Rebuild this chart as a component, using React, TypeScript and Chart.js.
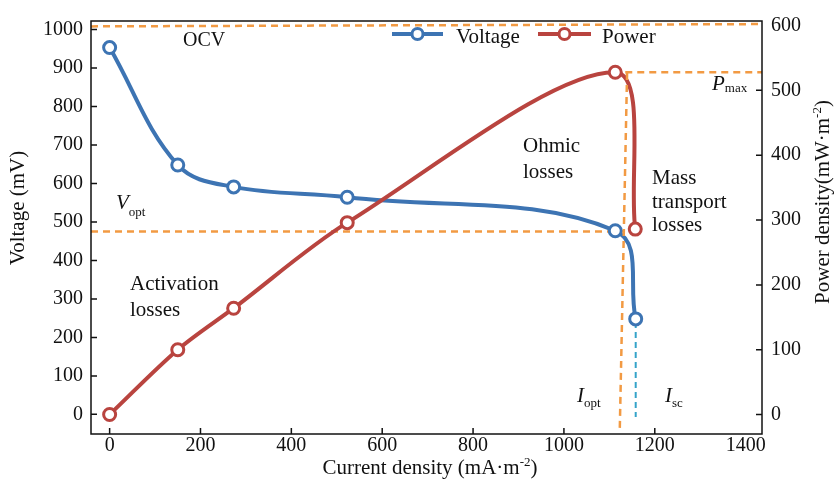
import React, { useEffect, useRef } from "react";
import { Chart, registerables } from "chart.js";

Chart.register(...registerables);

const FONT = "'Liberation Serif', 'Times New Roman', Times, serif";

// ---- data ----
const currentV = [0, 150, 273, 523, 1113, 1158];
const voltage = [953, 648, 591, 564, 477, 248];
const currentP = [0, 150, 273, 523, 1113, 1157];
const power = [0, 100, 164, 296, 528, 286];

const xTicks = [0, 200, 400, 600, 800, 1000, 1200, 1400];
const yTicks = [0, 100, 200, 300, 400, 500, 600, 700, 800, 900, 1000];
const y2Ticks = [0, 100, 200, 300, 400, 500, 600];

// reference lines
const ocvLine = [{ x: -41, y: 1008 }, { x: 1436, y: 1014 }];
const pmaxLine = [{ x: 1135, y: 528 }, { x: 1436, y: 528 }];
const ioptLine = [{ x: 1139, y: 887 }, { x: 1123, y: -36 }];
const voptLine = [{ x: -41, y: 475 }, { x: 1134, y: 475 }];
const iscLine = [{ x: 1158, y: 240 }, { x: 1158, y: -7 }];

const BLUE = "#3d74b3";
const RED = "#b9443f";
const ORANGE = "#f29a43";
const TEAL = "#35a3c9";
const INK = "#111111";

type Seg = { t: string; size: number; dy?: number; italic?: boolean };

function drawRich(
  ctx: CanvasRenderingContext2D,
  segs: Seg[],
  x: number,
  y: number,
  align: "left" | "center",
  rot = 0
) {
  ctx.save();
  ctx.translate(x, y);
  if (rot) ctx.rotate(rot);
  const fontOf = (s: Seg) => `${s.italic ? "italic " : ""}${s.size}px ${FONT}`;
  const widths = segs.map((s) => {
    ctx.font = fontOf(s);
    return ctx.measureText(s.t).width;
  });
  const total = widths.reduce((a, b) => a + b, 0);
  let cx = align === "center" ? -total / 2 : 0;
  ctx.textBaseline = "alphabetic";
  ctx.textAlign = "left";
  ctx.fillStyle = INK;
  segs.forEach((s, i) => {
    ctx.font = fontOf(s);
    ctx.fillText(s.t, cx, s.dy ?? 0);
    cx += widths[i];
  });
  ctx.restore();
}

const framePlugin = {
  id: "frameTicks",
  afterDraw(chart: any) {
    const { ctx, chartArea: a, scales } = chart;
    ctx.save();
    ctx.strokeStyle = INK;
    ctx.lineWidth = 1.5;
    ctx.strokeRect(a.left, a.top, a.right - a.left, a.bottom - a.top);
    const L = 6;
    ctx.beginPath();
    xTicks.forEach((v) => {
      if (v === 1400) return;
      const px = scales.x.getPixelForValue(v);
      ctx.moveTo(px, a.bottom);
      ctx.lineTo(px, a.bottom - L);
    });
    yTicks.forEach((v) => {
      const py = scales.y.getPixelForValue(v);
      ctx.moveTo(a.left, py);
      ctx.lineTo(a.left + L, py);
    });
    y2Ticks.forEach((v) => {
      if (v === 600) return;
      const py = scales.y2.getPixelForValue(v);
      ctx.moveTo(a.right, py);
      ctx.lineTo(a.right - L, py);
    });
    ctx.stroke();

    // legend
    const items = [
      { label: "Voltage", color: BLUE, x0: 392, x1: 443, tx: 456 },
      { label: "Power", color: RED, x0: 538, x1: 591, tx: 602 },
    ];
    items.forEach((it) => {
      const ly = 34;
      ctx.strokeStyle = it.color;
      ctx.lineWidth = 4;
      ctx.beginPath();
      ctx.moveTo(it.x0, ly);
      ctx.lineTo(it.x1, ly);
      ctx.stroke();
      ctx.beginPath();
      ctx.arc((it.x0 + it.x1) / 2, ly, 5.5, 0, Math.PI * 2);
      ctx.fillStyle = "#ffffff";
      ctx.fill();
      ctx.lineWidth = 3;
      ctx.stroke();
      drawRich(ctx, [{ t: it.label, size: 21 }], it.tx, 42.5, "left");
    });

    // annotations
    drawRich(ctx, [{ t: "OCV", size: 20 }], 183, 46, "left");
    drawRich(ctx, [{ t: "Ohmic", size: 21 }], 523, 152, "left");
    drawRich(ctx, [{ t: "losses", size: 21 }], 523, 178, "left");
    drawRich(ctx, [{ t: "Mass", size: 21 }], 652, 184, "left");
    drawRich(ctx, [{ t: "transport", size: 21 }], 652, 208, "left");
    drawRich(ctx, [{ t: "losses", size: 21 }], 652, 231, "left");
    drawRich(ctx, [{ t: "Activation", size: 21 }], 130, 290, "left");
    drawRich(ctx, [{ t: "losses", size: 21 }], 130, 315.5, "left");
    drawRich(ctx, [{ t: "V", size: 21, italic: true }, { t: "opt", size: 13, dy: 7 }], 116, 209, "left");
    drawRich(ctx, [{ t: "P", size: 21, italic: true }, { t: "max", size: 13, dy: 2 }], 712, 90, "left");
    drawRich(ctx, [{ t: "I", size: 21, italic: true }, { t: "opt", size: 13, dy: 5 }], 577, 401.5, "left");
    drawRich(ctx, [{ t: "I", size: 21, italic: true }, { t: "sc", size: 13, dy: 5 }], 665, 401.5, "left");

    // axis titles
    drawRich(ctx, [{ t: "Voltage (mV)", size: 21 }], 23.5, 208, "center", -Math.PI / 2);
    drawRich(
      ctx,
      [
        { t: "Power density(mW·m", size: 21 },
        { t: "-2", size: 13, dy: -8 },
        { t: ")", size: 21 },
      ],
      829,
      202,
      "center",
      -Math.PI / 2
    );
    drawRich(
      ctx,
      [
        { t: "Current density (mA·m", size: 21 },
        { t: "-2", size: 13, dy: -8 },
        { t: ")", size: 21 },
      ],
      430,
      474,
      "center"
    );
    ctx.restore();
  },
};

export default function App() {
  const ref = useRef<HTMLCanvasElement | null>(null);

  useEffect(() => {
    document.body.style.margin = "0";
    const canvas = ref.current;
    if (!canvas) return;

    const dashed = (data: any[], color: string, yAxisID: string, dash: number[], width: number, order: number) => ({
      data,
      yAxisID,
      borderColor: color,
      borderWidth: width,
      borderDash: dash,
      pointRadius: 0,
      fill: false,
      tension: 0,
      order,
    });

    const tickFont = { family: FONT, size: 20 };
    const plain = (v: any) => String(v);

    const chart = new Chart(canvas, {
      type: "line",
      data: {
        datasets: [
          {
            label: "Power",
            data: currentP.map((x, i) => ({ x, y: power[i] })),
            yAxisID: "y2",
            borderColor: RED,
            borderWidth: 4,
            pointRadius: 6,
            pointBorderWidth: 3,
            pointBackgroundColor: "#ffffff",
            pointBorderColor: RED,
            tension: 0.32,
            fill: false,
            order: 1,
          },
          {
            label: "Voltage",
            data: currentV.map((x, i) => ({ x, y: voltage[i] })),
            yAxisID: "y",
            borderColor: BLUE,
            borderWidth: 4,
            pointRadius: 6,
            pointBorderWidth: 3,
            pointBackgroundColor: "#ffffff",
            pointBorderColor: BLUE,
            tension: 0.38,
            fill: false,
            order: 2,
          },
          dashed(ocvLine, ORANGE, "y", [7, 5], 2.5, 0),
          dashed(pmaxLine, ORANGE, "y2", [7, 5], 2.5, 0),
          dashed(ioptLine, ORANGE, "y", [7, 5], 2.5, 0),
          dashed(voptLine, ORANGE, "y", [7, 5], 2.5, 3),
          dashed(iscLine, TEAL, "y", [6, 4], 2, 3),
        ],
      },
      options: {
        responsive: false,
        animation: false,
        devicePixelRatio: 1,
        layout: { padding: { top: 12, left: 0, right: 0, bottom: 0 }, autoPadding: false },
        plugins: {
          legend: { display: false },
          tooltip: { enabled: false },
        },
        scales: {
          x: {
            type: "linear",
            min: -41,
            max: 1436,
            grid: { display: false, drawTicks: false },
            border: { display: false },
            ticks: { font: tickFont, color: INK, padding: 0, maxRotation: 0, autoSkip: false, callback: plain },
            afterBuildTicks: (s: any) => {
              s.ticks = xTicks.map((v) => ({ value: v }));
            },
            afterFit: (s: any) => {
              s.height = 52;
            },
          },
          y: {
            type: "linear",
            position: "left",
            min: -51,
            max: 1022,
            grid: { display: false, drawTicks: false },
            border: { display: false },
            ticks: { font: tickFont, color: INK, padding: 8, autoSkip: false, callback: plain },
            afterBuildTicks: (s: any) => {
              s.ticks = yTicks.map((v) => ({ value: v }));
            },
            afterFit: (s: any) => {
              s.width = 91;
            },
          },
          y2: {
            type: "linear",
            position: "right",
            min: -30,
            max: 607,
            grid: { display: false, drawTicks: false },
            border: { display: false },
            ticks: { font: tickFont, color: INK, padding: 9, autoSkip: false, callback: plain },
            afterBuildTicks: (s: any) => {
              s.ticks = y2Ticks.map((v) => ({ value: v }));
            },
            afterFit: (s: any) => {
              s.width = 72;
            },
          },
        },
      },
      plugins: [framePlugin],
    } as any);

    return () => chart.destroy();
  }, []);

  return (
    <div style={{ position: "absolute", left: 0, top: 0, width: 834, height: 486, background: "#fff" }}>
      <canvas ref={ref} width={834} height={486} style={{ display: "block", width: 834, height: 486 }} />
    </div>
  );
}
